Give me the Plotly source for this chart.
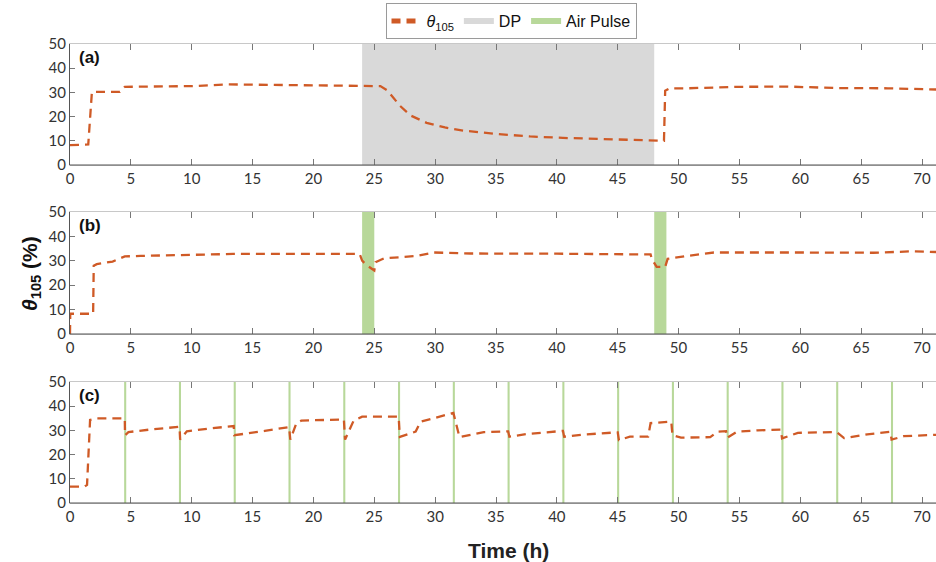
import plotly.graph_objects as go

# ---------------- data ----------------
# Panel (a)
a_time = [0, 1.3, 1.5, 1.8, 4.1, 4.5, 5, 10, 13, 20, 24, 25.5, 26.1, 27.1, 28, 29.3, 30.8, 32.3,
          35.1, 37.8, 40.5, 43.3, 46.3, 48, 48.8, 48.9, 49.3, 50.7, 54.8, 59, 63, 67.2, 71.2]
a_theta = [8.2, 8.2, 8.5, 30.2, 30.2, 32.3, 32.3, 32.6, 33.3, 33, 32.7, 32.6, 30.7, 24.5, 20.4, 17.4,
           15.5, 14.2, 12.8, 11.8, 11.2, 10.7, 10.3, 10, 10, 30.7, 31.7, 31.7, 32.3, 32.4, 31.8, 31.7, 31.2]

# Panel (b)
b_time = [0, 0.02, 1.9, 1.95, 2.2, 3.5, 4.5, 5.8, 13.4, 23.8, 24, 24.3, 25, 25.1, 25.8, 28.5, 29.9,
          32.9, 40, 47.7, 47.8, 48.2, 48.9, 49.1, 50.7, 52.9, 60, 66, 69.3, 71.2]
b_theta = [0, 8.3, 8.3, 28, 28.6, 29.7, 31.8, 32, 32.8, 32.8, 30.1, 28.5, 26, 29.4, 31, 32, 33.4,
           33, 32.9, 32.6, 30.8, 27.5, 27.5, 30.8, 32, 33.4, 33.4, 33.3, 33.9, 33.6]

# Panel (c)
c_time = [0, 1.2, 1.4, 1.65, 2.2, 4.5, 4.52, 4.8, 6.5, 8.8, 9.0, 9.05, 9.6, 11.5, 13.3, 13.45, 13.5,
          14.5, 16, 18.0, 18.1, 18.6, 19, 20, 22.5, 22.6, 23.3, 24, 26.5, 27.0, 27.1, 28.4, 28.8,
          31.4, 31.5, 32, 34, 36.0, 36.1, 37.5, 40.4, 40.5, 40.6, 42, 44.9, 45, 45.1, 46, 47.5, 47.7,
          49.4, 49.5, 50.2, 52.6, 53.2, 53.9, 54.0, 54.8, 56.5, 58.4, 58.5, 59.8, 62.7, 63.0, 63.6,
          65.5, 67.4, 67.5, 68.5, 71.2]
c_theta = [6.8, 6.8, 7.5, 34.3, 35, 35, 28, 29.3, 30.3, 31.4, 31.5, 26.2, 29.6, 30.8, 31.8, 31.8, 28,
           28.6, 29.8, 31.4, 26.2, 33, 34, 34.2, 34.5, 26.2, 34, 35.7, 35.8, 35.7, 27.3, 29.5, 33.6,
           37.2, 37.2, 27.2, 29.3, 29.6, 27.4, 28.5, 29.8, 29.8, 27.4, 28.2, 29.2, 29.2, 26, 27.4, 27.4,
           33, 33.6, 28, 27, 27.2, 29.5, 29.7, 27, 29.5, 30, 30.3, 26.7, 29, 29.3, 29.3, 26.8, 28.4,
           29.4, 26.2, 27.6, 28.2]

dp_start, dp_end = 24, 48
pulse_b_start = [24, 48]
pulse_b_len = 1.0
pulse_c_start = [4.45, 8.95, 13.45, 17.95, 22.45, 26.95, 31.45, 35.95, 40.45, 44.95,
                 49.45, 53.95, 58.45, 62.95, 67.45]
pulse_c_len = 0.17

x_ticks = [0, 5, 10, 15, 20, 25, 30, 35, 40, 45, 50, 55, 60, 65, 70]
y_ticks = [0, 10, 20, 30, 40, 50]
panel_labels = ["(a)", "(b)", "(c)"]

# ---------------- styles ----------------
LINE_COLOR = "#CF5A26"
DP_COLOR = "#D9D9D9"
AIR_COLOR = "#B8D89A"
W, H = 936, 562
L = 70
x_range = [0, 71.15]
domains_px = [(44, 165), (212, 334), (382, 503)]
TICK_FONT = dict(family="Lato, 'Open Sans', sans-serif", size=15, color="#333333")


def box_poly(starts, length, ymax=50):
    xs, ys = [], []
    for s in starts:
        xs += [s, s + length, s + length, s, s, None]
        ys += [0, 0, ymax, ymax, 0, None]
    return xs, ys


fig = go.Figure()

# DP shading (panel a)
dx, dy = box_poly([dp_start], dp_end - dp_start)
fig.add_trace(go.Scatter(x=dx, y=dy, fill="toself", fillcolor=DP_COLOR, mode="none",
                         name="DP", legendrank=2, xaxis="x", yaxis="y", hoverinfo="skip"))
# Air pulses (panel b)
bx, by = box_poly(pulse_b_start, pulse_b_len)
fig.add_trace(go.Scatter(x=bx, y=by, fill="toself", fillcolor=AIR_COLOR, mode="none",
                         name="Air Pulse", legendrank=3, xaxis="x2", yaxis="y2", hoverinfo="skip"))
# Air pulses (panel c)
cx, cy = box_poly(pulse_c_start, pulse_c_len)
fig.add_trace(go.Scatter(x=cx, y=cy, fill="toself", fillcolor=AIR_COLOR, mode="none",
                         name="Air Pulse", showlegend=False, xaxis="x3", yaxis="y3", hoverinfo="skip"))

line_style = dict(color=LINE_COLOR, width=2.3, dash="9px,6px")
fig.add_trace(go.Scatter(x=a_time, y=a_theta, mode="lines", line=line_style,
                         name="<i>θ</i><sub>105</sub>", legendrank=1, xaxis="x", yaxis="y"))
fig.add_trace(go.Scatter(x=b_time, y=b_theta, mode="lines", line=line_style,
                         showlegend=False, xaxis="x2", yaxis="y2"))
fig.add_trace(go.Scatter(x=c_time, y=c_theta, mode="lines", line=line_style,
                         showlegend=False, xaxis="x3", yaxis="y3"))

layout = dict(
    width=W, height=H,
    margin=dict(l=L, r=0, t=0, b=0, pad=0, autoexpand=False),
    paper_bgcolor="white", plot_bgcolor="white",
    showlegend=True,
    legend=dict(orientation="h", xref="paper", yref="paper",
                x=(511 - L) / (W - L), xanchor="center", y=1 - 3 / H, yanchor="top",
                bordercolor="#9a9a9a", borderwidth=1, bgcolor="white",
                font=dict(family="Arial, 'Liberation Sans', sans-serif", size=16, color="#111111"),
                itemwidth=30, tracegroupgap=0, itemsizing="constant"),
    shapes=[], annotations=[],
)

for i, (top, bot) in enumerate(domains_px):
    n = "" if i == 0 else str(i + 1)
    dom = [1 - bot / H, 1 - top / H]
    layout["xaxis" + n] = dict(domain=[0, 1], range=x_range, anchor="y" + n,
                               tickvals=x_ticks, ticks="inside", ticklen=6, tickcolor="#777777",
                               tickwidth=1, mirror="ticks", showline=True, linecolor="#C8C8C8",
                               linewidth=1, showgrid=False, zeroline=False, tickfont=TICK_FONT,
                               automargin=False, fixedrange=True)
    layout["yaxis" + n] = dict(domain=dom, range=[0, 50], anchor="x" + n,
                               tickvals=y_ticks, ticks="inside", ticklen=5, tickcolor="#777777",
                               showline=True, linecolor="#555555", linewidth=1.2,
                               showgrid=False, zeroline=False, tickfont=TICK_FONT,
                               automargin=False, fixedrange=True)
    # darker bottom axis line
    layout["shapes"].append(dict(type="line", xref=("x" + n + " domain") if n else "x domain",
                                 yref=("y" + n + " domain") if n else "y domain",
                                 x0=0, x1=1, y0=0, y1=0, line=dict(color="#555555", width=1.2)))
    layout["annotations"].append(dict(text="<b>" + panel_labels[i] + "</b>",
                                      xref=("x" + n + " domain") if n else "x domain",
                                      yref=("y" + n + " domain") if n else "y domain",
                                      x=0.008, y=0.98, xanchor="left", yanchor="top",
                                      showarrow=False,
                                      font=dict(family="Arial, 'Liberation Sans', sans-serif",
                                                size=17, color="#111111")))

layout["annotations"].append(dict(text="<b><i>θ</i><sub>105</sub> (%)</b>", textangle=-90,
                                  xref="paper", yref="paper", x=(31 - L) / (W - L), y=1 - 274 / H,
                                  xanchor="center", yanchor="middle", showarrow=False,
                                  font=dict(family="Arial, 'Liberation Sans', sans-serif",
                                            size=21, color="#111111")))
layout["annotations"].append(dict(text="<b>Time (h)</b>", xref="paper", yref="paper",
                                  x=(508 - L) / (W - L), y=1 - 550 / H,
                                  xanchor="center", yanchor="middle", showarrow=False,
                                  font=dict(family="Arial, 'Liberation Sans', sans-serif",
                                            size=21, color="#222222")))

fig.update_layout(**layout)
fig.write_html("out.html", config={"displayModeBar": False},
               post_script="document.body.style.margin='0';document.body.style.overflow='hidden';")
